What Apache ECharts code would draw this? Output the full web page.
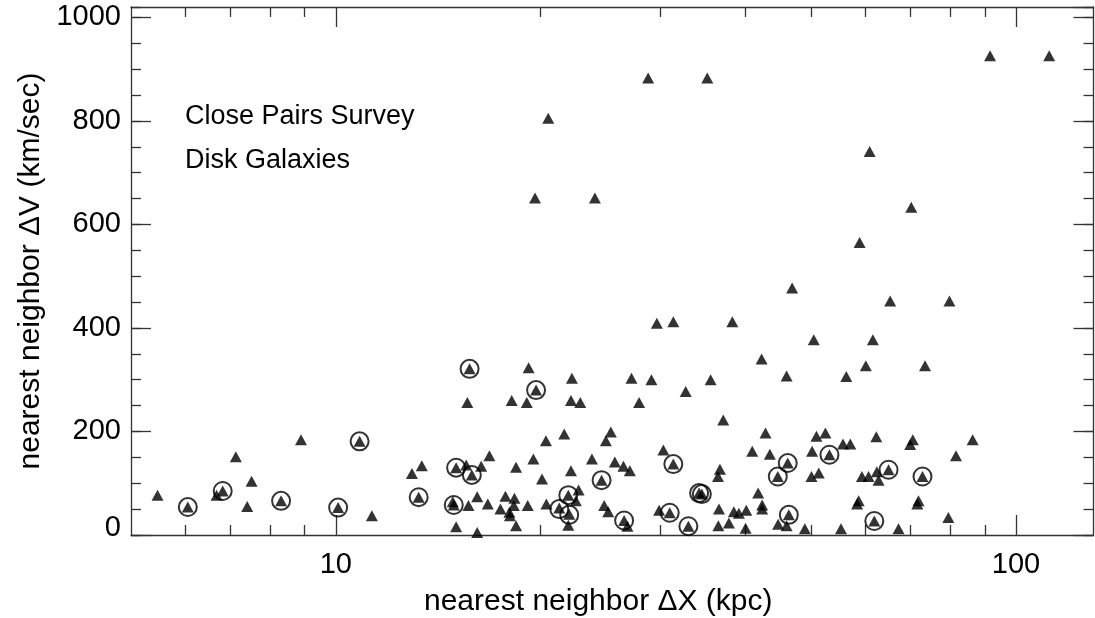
<!DOCTYPE html>
<html><head><meta charset="utf-8">
<script src="https://cdn.jsdelivr.net/npm/echarts@6/dist/echarts.min.js"></script>
<style>html,body{margin:0;padding:0;background:#fff}#c{width:1095px;height:618px}</style>
</head><body><div id="c"></div>
<script>
// ---- data ----
const xMajorTicks = [10, 100];
const xMinorTicks = [6, 7, 8, 9, 20, 30, 40, 50, 60, 70, 80, 90];
const xLabelValues = [10, 100];

// all galaxy pairs: separation dX (kpc) and velocity difference dV (km/s)
const pairsDX = [5.47,6.06,6.68,6.82,7.13,7.52,7.41,8.31,8.89,10.84,10.08,11.30,12.94,13.38,13.24,19.70,15.61,18.14,19.09,22.17,22.88,27.92,32.69,37.12,20.37,21.67,25.37,24.95,16.82,19.52,23.80,25.72,26.48,27.06,30.31,31.35,36.71,36.47,15.03,15.55,15.85,16.36,18.41,22.17,20.10,24.59,14.91,14.86,15.67,16.14,16.73,15.03,16.14,17.46,17.76,18.31,18.27,18.00,18.03,18.41,19.15,20.40,21.97,22.75,22.54,21.31,22.04,21.97,24.81,25.15,26.54,26.84,29.88,30.97,32.99,34.21,34.53,36.59,36.51,37.84,40.95,42.83,43.46,46.18,44.65,41.78,42.35,42.35,38.48,39.14,40.13,40.04,46.35,44.70,46.00,48.93,50.89,52.46,50.15,53.18,55.68,57.07,50.04,51.29,62.32,70.52,69.89,86.35,81.62,59.36,60.71,62.80,62.45,64.96,72.87,58.71,58.40,71.89,71.60,61.90,55.30,67.19,79.54,46.87,29.65,31.35,38.28,42.27,15.73,19.21,22.24,27.21,29.11,35.57,46.00,28.79,35.17,20.53,19.63,24.04,91.60,111.9,60.93,70.15,58.90,65.32,79.83,50.43,61.60,60.15,73.50,56.30];
const pairsDV = [77,54,77,85,151,104,55,66,184,181,53,37,119,134,73,280,256,260,256,260,256,256,277,222,182,195,199,182,153,147,147,141,133,124,164,137,127,113,130,135,116,133,131,124,108,106,58,64,57,74,60,16,5,50,75,71,57,44,37,18,57,60,77,87,66,52,40,19,57,45,28,17,48,43,17,81,79,50,18,23,162,197,156,139,113,81,58,50,45,42,48,13,39,21,18,12,191,197,162,155,176,176,113,120,190,184,175,184,153,113,113,106,122,126,113,66,60,66,60,27,12,12,34,477,409,412,412,340,321,323,303,303,300,300,307,883,883,805,651,651,926,926,741,633,565,452,452,377,377,327,327,306];

// circled (highlighted) pairs
const circledDX = [6.06,6.82,8.31,10.08,10.84,13.24,14.91,15.03,15.85,15.73,19.70,21.97,21.31,22.04,24.59,26.54,30.97,31.35,32.99,34.21,34.53,44.65,46.18,46.35,53.18,61.90,64.96,72.87];
const circledDV = [54,85,66,53,181,73,58,130,116,321,280,77,50,39,106,28,43,137,17,81,79,113,139,39,155,27,126,113];

const annotations = ['Close Pairs Survey', 'Disk Galaxies'];

// ---- chart ----
const FONT = 'Liberation Sans, Arial, Helvetica, sans-serif';
const FS_TICK = 29;
const FS_NAME = 30;
const FS_NOTE = 27;
const LINE = {color: '#333', width: 1.3};

const triData = pairsDX.map((x, i) => [x, pairsDV[i]]);
const circData = circledDX.map((x, i) => [x, circledDV[i]]);

function xAxisDef(pos, major) {
  return {
    type: 'log', logBase: 10, min: 5, max: 130, position: pos,
    axisLine: {show: major, onZero: false, lineStyle: LINE},
    axisTick: {show: true, inside: true, length: major ? 20 : 10,
               customValues: major ? xMajorTicks : xMinorTicks, lineStyle: LINE},
    axisLabel: {show: major && pos === 'bottom', customValues: xLabelValues,
                fontFamily: FONT, fontSize: FS_TICK, color: '#000', margin: 15},
    splitLine: {show: false}, minorTick: {show: false},
    name: (major && pos === 'bottom') ? 'nearest neighbor \u0394X (kpc)' : '',
    nameLocation: 'middle', nameGap: 52,
    nameTextStyle: {fontFamily: FONT, fontSize: FS_NAME, color: '#000', padding: [0, 28, 0, 0]}
  };
}
function yAxisDef(pos, major) {
  return {
    type: 'value', min: 0, max: 1020, interval: major ? 200 : 50, position: pos,
    axisLine: {show: major, onZero: false, lineStyle: LINE},
    axisTick: {show: true, inside: true, length: major ? 20 : 10, lineStyle: LINE},
    axisLabel: {show: major && pos === 'left', showMaxLabel: false,
                fontFamily: FONT, fontSize: FS_TICK, color: '#000', margin: 10,
                formatter: v => v === 0 ? '{z|0}' : String(v),
                rich: {z: {fontFamily: FONT, fontSize: FS_TICK, color: '#000', padding: [0, 0, 14, 0]}}},
    splitLine: {show: false},
    name: (major && pos === 'left') ? 'nearest neighbor \u0394V (km/sec)' : '',
    nameLocation: 'middle', nameGap: 80, nameRotate: 90,
    nameTextStyle: {fontFamily: FONT, fontSize: FS_NAME, color: '#000'}
  };
}

const chart = echarts.init(document.getElementById('c'), null, {renderer: 'canvas'});
chart.setOption({
  animation: false,
  backgroundColor: '#fff',
  grid: {left: 131, right: 1.5, top: 7, bottom: 83, containLabel: false, outerBoundsMode: 'none'},
  xAxis: [xAxisDef('bottom', true), xAxisDef('bottom', false), xAxisDef('top', true), xAxisDef('top', false)],
  yAxis: [yAxisDef('left', true), yAxisDef('left', false), yAxisDef('right', true), yAxisDef('right', false)],
  graphic: [
    {type: 'text', left: 185, top: 103, style: {text: annotations[0], font: FS_NOTE + 'px ' + FONT, fill: '#000'}},
    {type: 'text', left: 185, top: 147, style: {text: annotations[1], font: FS_NOTE + 'px ' + FONT, fill: '#000'}}
  ],
  series: [
    {type: 'scatter', xAxisIndex: 0, yAxisIndex: 0, data: triData, symbol: 'triangle',
     symbolSize: [12, 11], itemStyle: {color: '#000'}, silent: true},
    {type: 'scatter', xAxisIndex: 0, yAxisIndex: 0, data: circData, symbol: 'circle',
     symbolSize: 18, itemStyle: {color: 'rgba(0,0,0,0)', borderColor: '#000', borderWidth: 2}, silent: true}
  ]
});
</script></body></html>
